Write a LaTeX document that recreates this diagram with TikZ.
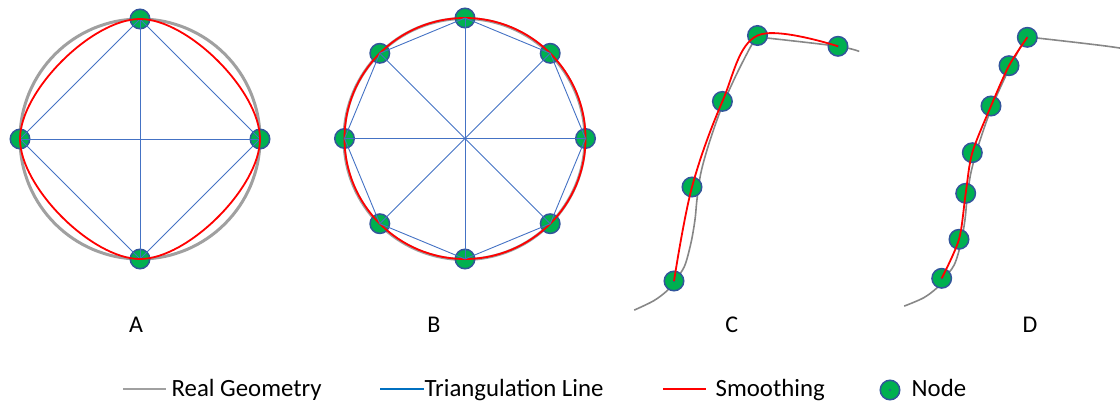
\documentclass[tikz,border=0pt]{standalone}
\usepackage{fontspec}
\setmainfont{Carlito}
\usetikzlibrary{calc}
\definecolor{geo}{RGB}{160,160,160}
\definecolor{geoD}{RGB}{135,135,135}
\definecolor{tri}{RGB}{68,114,196}
\definecolor{trileg}{RGB}{0,112,192}
\definecolor{smo}{RGB}{255,0,0}
\definecolor{ngreen}{RGB}{0,176,80}
\definecolor{nblue}{RGB}{50,85,155}
\tikzset{
  nd/.style={circle, fill=ngreen, draw=nblue, line width=1.5pt, minimum size=19.5pt, inner sep=0pt,
    path picture={\fill[nblue] (path picture bounding box.center) circle (1.1pt);}},
  triline/.style={draw=tri, line width=0.9pt},
  smoline/.style={draw=smo, line width=1.8pt},
  geoline/.style={draw=geoD, line width=1.6pt},
  leggeo/.style={draw=geo, line width=2pt},
  legtri/.style={draw=trileg, line width=2pt},
  legsmo/.style={draw=smo, line width=2pt},
  lbl/.style={anchor=base, inner sep=0pt, font=\fontsize{24}{28}\selectfont},
  legtxt/.style={anchor=base west, inner sep=0pt, font=\fontsize{24.8}{28}\selectfont}
}
\begin{document}
\begin{tikzpicture}[x=1pt,y=-1pt]
\useasboundingbox (0,0) rectangle (1120,405);
% ---------- A ----------
\draw[draw=geo, line width=3pt] (140,139) circle (120);
\node[nd] (a1) at (140,19) {};
\node[nd] (a2) at (20,139) {};
\node[nd] (a3) at (140,259) {};
\node[nd] (a4) at (260,139) {};
\draw[triline] (a1.center) -- (a2.center) -- (a3.center) -- (a4.center) -- cycle;
\draw[triline] (a1.center) -- (a3.center);
\draw[triline] (a2.center) -- (a4.center);
\draw[smoline] (a1.center) .. controls +(-48,0) and +(0,-48) .. (a2.center)
  .. controls +(0,48) and +(-48,0) .. (a3.center)
  .. controls +(48,0) and +(0,48) .. (a4.center)
  .. controls +(0,-48) and +(48,0) .. (a1.center) -- cycle;
% ---------- B ----------
\draw[draw=geo, line width=3pt] (464.5,139) circle (120.5);
\foreach \i/\ang in {1/90,2/135,3/180,4/225,5/270,6/315,7/0,8/45}{
  \node[nd] (b\i) at ($(465,138.5)+(\ang:120.5pt)$) {};
}
\draw[smoline] (465,138.5) circle (120.5);
\draw[triline] (b1.center) -- (b2.center) -- (b3.center) -- (b4.center) -- (b5.center) -- (b6.center) -- (b7.center) -- (b8.center) -- cycle;
\foreach \p/\q in {1/5,2/6,3/7,4/8}{ \draw[triline] (b\p.center) -- (b\q.center); }
% ---------- C ----------
\draw[geoline] plot[smooth, tension=0.55] coordinates {(634.2,310.1) (653.8,300.7) (667.3,290.5) (674,281.4) (684.2,266.9) (690.9,243.2) (695,219.6) (697,199.3) (701,172.3) (709.5,141.9) (721.4,108.1) (734.9,77.7) (746.7,54.1) (753.4,42.2) (758.5,37.8) (768.6,38.2) (837.9,46.3) (859.2,51.4)};
\node[nd] (c1) at (674,281) {};
\node[nd] (c2) at (692,187) {};
\node[nd] (c3) at (722.4,101.4) {};
\node[nd] (c4) at (757.5,35.5) {};
\node[nd] (c5) at (838,46.3) {};
\draw[smoline] plot[smooth, tension=0.6] coordinates {(c1.center) (c2.center) (c3.center) (c4.center) (c5.center)};
% ---------- D ----------
\begin{scope}[xshift=270pt]
\draw[geoline] plot[smooth, tension=0.55] coordinates {(634.2,306.1) (653.8,297.7) (667.3,287.5) (674,278.4) (684.2,264.9) (690.9,243.2) (695,219.6) (697,199.3) (701,172.3) (709.5,141.9) (721.4,108.1) (734.9,77.7) (746.7,54.1) (753.4,42.2) (758.5,37.8) (768.6,38.2) (837.9,46.3) (870,51.6)};
\end{scope}
\node[nd] (d1) at (941.7,278.3) {};
\node[nd] (d2) at (959,239.3) {};
\node[nd] (d3) at (965.7,193.3) {};
\node[nd] (d4) at (972.3,152.7) {};
\node[nd] (d5) at (991,106) {};
\node[nd] (d6) at (1009,65.7) {};
\node[nd] (d7) at (1027.3,37.3) {};
\draw[smoline] plot[smooth, tension=0.5] coordinates {(d1.center) (d2.center) (d3.center) (d4.center) (d5.center) (d6.center) (d7.center)};
% ---------- labels ----------
\node[lbl] (la) at (136,332.7) {A};
\node[lbl] (lb) at (434,332.7) {B};
\node[lbl] (lc) at (731.7,332.7) {C};
\node[lbl] (ld) at (1030,332.7) {D};
% ---------- legend ----------
\coordinate (g1) at (123,389.3);
\coordinate (g2) at (166,389.3);
\draw[leggeo] (g1) -- (g2);
\node[legtxt] (tg) at (171.5,396.7) {Real Geometry};
\coordinate (t1) at (380,389.3);
\coordinate (t2) at (424,389.3);
\draw[legtri] (t1) -- (t2);
\node[legtxt] (tt) at (424.5,396.7) {Triangulation Line};
\coordinate (s1) at (663,389.3);
\coordinate (s2) at (705.5,389.3);
\draw[legsmo] (s1) -- (s2);
\node[legtxt] (ts) at (715.5,396.7) {Smoothing};
\node[nd] (ln) at (890,390) {};
\node[legtxt] (tn) at (911.5,396.7) {Node};
\end{tikzpicture}
\end{document}
